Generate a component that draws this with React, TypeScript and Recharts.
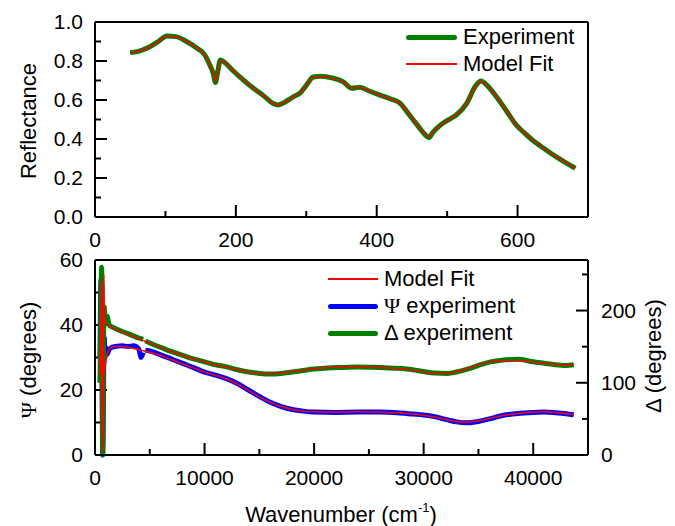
import React from "react";
import { CartesianGrid, Legend, Line, LineChart, ReferenceLine, XAxis, YAxis } from "recharts";

const FONT = "'Liberation Sans', Arial, Helvetica, sans-serif";
const SERIF = "'Liberation Serif', 'DejaVu Serif', serif";
const GREEN = "#008000";
const RED = "#ff0000";
const BLUE = "#0000ff";
const INK = "#000";

// --- top panel: reflectance vs wavenumber (cm^-1) ---
const reflWavenumber = [
  50, 60, 75, 90, 102, 115, 130, 145, 155, 163, 168, 171, 174, 178, 185, 196,
  210, 225, 240, 253, 260, 270, 281, 291, 300, 310, 320, 338, 352, 365, 376,
  390, 404, 420, 433, 445, 458, 468, 474, 480, 490, 505, 513, 528, 540, 548,
  558, 570, 585, 598, 610, 621, 638, 655, 670, 682,
];
const reflExperiment = [
  0.843, 0.848, 0.868, 0.9, 0.928, 0.925, 0.9, 0.865, 0.835, 0.78, 0.735, 0.69,
  0.74, 0.805, 0.79, 0.75, 0.705, 0.66, 0.62, 0.582, 0.575, 0.59, 0.615, 0.635,
  0.675, 0.718, 0.722, 0.712, 0.694, 0.66, 0.665, 0.645, 0.626, 0.605, 0.584,
  0.53, 0.47, 0.425, 0.407, 0.435, 0.47, 0.505, 0.523, 0.584, 0.67, 0.697,
  0.67, 0.617, 0.54, 0.472, 0.43, 0.395, 0.35, 0.308, 0.275, 0.25,
];
const reflModelFit = [
  0.843, 0.849, 0.868, 0.9, 0.927, 0.924, 0.9, 0.866, 0.834, 0.782, 0.738,
  0.695, 0.742, 0.803, 0.79, 0.75, 0.705, 0.66, 0.62, 0.582, 0.576, 0.59,
  0.614, 0.636, 0.676, 0.717, 0.721, 0.711, 0.693, 0.661, 0.664, 0.645, 0.626,
  0.604, 0.583, 0.531, 0.471, 0.427, 0.41, 0.436, 0.47, 0.504, 0.524, 0.585,
  0.668, 0.695, 0.669, 0.617, 0.541, 0.472, 0.43, 0.396, 0.35, 0.309, 0.276,
  0.251,
];
const reflXTicks = [0, 100, 200, 300, 400, 500, 600];
const reflXLabeled = [0, 200, 400, 600];
const reflYTicks = [0, 0.1, 0.2, 0.3, 0.4, 0.5, 0.6, 0.7, 0.8, 0.9, 1.0];
const reflYLabeled = [0, 0.2, 0.4, 0.6, 0.8, 1.0];

// --- bottom panel: ellipsometry Psi / Delta ---
const expWavenumber = [
  450, 500, 550, 600, 650, 700, 750, 800, 850, 900, 1000, 1100, 1300, 1600,
  2000, 2500, 3000, 3500, 4000, 4200, 4400, 4500, 4600, 5000, 6000, 7000, 8000,
  9000, 10000, 11000, 12000, 13000, 14000, 15000, 16000, 17000, 18000, 19000,
  20000, 22000, 24000, 26000, 27600, 29000, 30000, 31000, 32200, 33000, 34000,
  35000, 36100, 37000, 38600, 40000, 41000, 42000, 43000, 43700,
];
const psiExperiment = [
  30, 45, 54, 40, 20, 0, 12, 28, 36, 30, 33, 31, 32.5, 33.2, 33.5, 33.6, 33.4,
  33.6, 32.6, 30.0, 31.5, null, 32.2, 32.0, 30.8, 29.5, 28.2, 26.9, 25.5, 24.6,
  23.5, 22.0, 20.0, 18.0, 16.2, 14.9, 14.0, 13.5, 13.2, 13.1, 13.2, 13.2, 13.0,
  12.6, 12.3, 11.8, 10.8, 10.2, 9.9, 10.3, 11.2, 12.0, 12.8, 13.1, 13.2, 13.0,
  12.7, 12.4,
];
const deltaExperiment = [
  100, 150, 220, 260, 200, 0, 60, 200, 205, 190, 184, 192, 180, 177, 174, 171,
  168, 165, 162, 161, 160, null, 158, 155, 149, 143, 138, 133, 129, 125, 122,
  118, 115, 113, 112, 113, 115, 117, 119, 121, 122, 121, 120, 118, 115.5,
  113.5, 113, 115, 119, 124, 129, 131, 132.5, 129, 127, 125, 124, 125,
];
const fitWavenumber = [
  450, 500, 550, 600, 650, 700, 750, 800, 850, 900, 1000, 1100, 1300, 1600,
  2000, 2500, 3000, 3500, 4000, 4500, 5000, 6000, 7000, 8000, 9000, 10000,
  11000, 12000, 13000, 14000, 15000, 16000, 17000, 18000, 19000, 20000, 22000,
  24000, 26000, 27600, 29000, 30000, 31000, 32200, 33000, 34000, 35000, 36100,
  37000, 38600, 40000, 41000, 42000, 43000, 43700,
];
const psiModelFit = [
  28, 32, 35, 35, 20, 2, 15, 27, 26, 27, 29, 31, 32.6, 33.3, 33.5, 33.4, 33.1,
  32.8, 32.4, 32.0, 31.6, 30.6, 29.3, 28.0, 26.8, 25.5, 24.5, 23.4, 21.9, 19.9,
  17.9, 16.2, 14.9, 14.0, 13.5, 13.3, 13.2, 13.3, 13.2, 13.0, 12.6, 12.2, 11.7,
  10.8, 10.3, 10.1, 10.5, 11.3, 12.0, 12.8, 13.2, 13.3, 13.1, 12.8, 12.5,
];
const deltaModelFit = [
  110, 130, 180, 240, 150, 5, 120, 250, 200, 186, 183, 181, 179, 176, 173, 170,
  167, 164, 161, 158, 155, 149, 143, 138, 133, 129, 125, 121.5, 118, 115, 113,
  112.5, 113.5, 115.5, 117.5, 119.5, 121.5, 122, 121, 119.5, 117.5, 115, 113,
  113, 115.5, 120, 125, 129, 130.5, 131, 128.5, 127, 125.5, 124.5, 124.5,
];
const ellXTicks = [0, 5000, 10000, 15000, 20000, 25000, 30000, 35000, 40000];
const ellXLabeled = [0, 10000, 20000, 30000, 40000];
const psiTicks = [0, 10, 20, 30, 40, 50, 60];
const psiLabeled = [0, 20, 40, 60];
const deltaTicks = [0, 50, 100, 150, 200, 250];
const deltaLabeled = [0, 100, 200];

const toPoints = (xs: number[], ys: (number | null)[]) =>
  xs.map((x, i) => ({ x, y: ys[i] }));

const isLabeled = (labeled: number[], v: number) => labeled.some((m) => Math.abs(m - v) < 1e-9);

// minor ticks get a blank label
const labelOnly = (labeled: number[], fmt: (v: number) => string = (v) => `${v}`) => (v: number) =>
  isLabeled(labeled, v) ? fmt(v) : "";

const edge = { stroke: INK, strokeWidth: 2 };
const tickText = { fontSize: 21, fontFamily: FONT, fill: INK };

// plot box size in px, used to turn the inward tick length into data units
const PLOT_W = 493;
const PLOT_H = 195;
const MAJOR_PX = 12;
const MINOR_PX = 6;

// inward tick marks along the bottom edge
function bottomMarks(ticks: number[], labeled: number[], yMin: number, ySpan: number, yAxisId?: string) {
  return ticks.map((t) => {
    const len = ((isLabeled(labeled, t) ? MAJOR_PX : MINOR_PX) / PLOT_H) * ySpan;
    return (
      <ReferenceLine
        key={`b${t}`}
        {...(yAxisId ? { yAxisId } : {})}
        segment={[
          { x: t, y: yMin },
          { x: t, y: yMin + len },
        ]}
        stroke={INK}
        strokeWidth={2}
      />
    );
  });
}

// inward tick marks along a side edge; dir = 1 for the left edge, -1 for the right
function sideMarks(
  ticks: number[],
  labeled: number[],
  xEdge: number,
  xSpan: number,
  dir: number,
  yAxisId?: string
) {
  return ticks.map((t) => {
    const len = ((isLabeled(labeled, t) ? MAJOR_PX : MINOR_PX) / PLOT_W) * xSpan;
    return (
      <ReferenceLine
        key={`s${dir}${t}`}
        {...(yAxisId ? { yAxisId } : {})}
        segment={[
          { x: xEdge, y: t },
          { x: xEdge + dir * len, y: t },
        ]}
        stroke={INK}
        strokeWidth={2}
      />
    );
  });
}

type LegendRow = { label: React.ReactNode; color: string; width: number };

function LegendBox({ rows, lineLen, gap }: { rows: LegendRow[]; lineLen: number; gap: number }) {
  return (
    <div style={{ position: "relative", width: 200, height: rows.length * gap + 6 }}>
      {rows.map((r, i) => {
        const cy = 14 + i * gap;
        return (
          <React.Fragment key={i}>
            <div
              style={{
                position: "absolute",
                left: 6,
                top: cy - r.width / 2,
                width: lineLen,
                height: r.width,
                background: r.color,
                borderRadius: r.width > 2 ? r.width / 2 : 0,
              }}
            />
            <div
              style={{
                position: "absolute",
                left: lineLen + 12,
                top: cy - 10.6,
                font: `22px ${FONT}`,
                lineHeight: "22px",
                color: INK,
                whiteSpace: "nowrap",
              }}
            >
              {r.label}
            </div>
          </React.Fragment>
        );
      })}
    </div>
  );
}

const topRows: LegendRow[] = [
  { label: "Experiment", color: GREEN, width: 5 },
  { label: "Model Fit", color: RED, width: 2 },
];

const bottomRows: LegendRow[] = [
  { label: "Model Fit", color: RED, width: 2 },
  {
    label: (
      <>
        <span style={{ fontFamily: SERIF }}>Ψ</span> experiment
      </>
    ),
    color: BLUE,
    width: 5,
  },
  { label: "Δ experiment", color: GREEN, width: 5 },
];

function ReflectancePanel() {
  return (
    <LineChart width={675} height={252} margin={{ top: 22, right: 87, bottom: 0, left: 0 }}>
      <CartesianGrid horizontalValues={[1]} verticalValues={[700]} stroke={INK} strokeWidth={2} />
      <XAxis
        dataKey="x"
        type="number"
        domain={[0, 700]}
        ticks={reflXTicks}
        interval={0}
        height={35}
        axisLine={edge}
        tickLine={false}
        tickSize={0}
        tickMargin={15}
        tick={tickText}
        tickFormatter={labelOnly(reflXLabeled)}
      />
      <YAxis
        type="number"
        domain={[0, 1]}
        ticks={reflYTicks}
        interval={0}
        width={95}
        axisLine={edge}
        tickLine={false}
        tickSize={0}
        tickMargin={12}
        tick={tickText}
        tickFormatter={labelOnly(reflYLabeled, (v) => v.toFixed(1))}
      />
      {bottomMarks(reflXTicks, reflXLabeled, 0, 1)}
      {sideMarks(reflYTicks, reflYLabeled, 0, 700, 1)}
      <Line
        data={toPoints(reflWavenumber, reflExperiment)}
        dataKey="y"
        type="monotone"
        stroke={GREEN}
        strokeWidth={5}
        strokeLinejoin="round"
        dot={false}
        isAnimationActive={false}
      />
      <Line
        data={toPoints(reflWavenumber, reflModelFit)}
        dataKey="y"
        type="monotone"
        stroke={RED}
        strokeWidth={1.5}
        dot={false}
        isAnimationActive={false}
      />
      <Legend
        layout="vertical"
        align="center"
        verticalAlign="middle"
        wrapperStyle={{ left: 400, top: 23, width: 200 }}
        content={() => <LegendBox rows={topRows} lineLen={51} gap={26.5} />}
      />
    </LineChart>
  );
}

function EllipsometryPanel() {
  return (
    <LineChart width={675} height={274} margin={{ top: 8, right: 0, bottom: 0, left: 0 }}>
      <CartesianGrid yAxisId="psi" horizontalValues={[60]} vertical={false} stroke={INK} strokeWidth={2} />
      <XAxis
        dataKey="x"
        type="number"
        domain={[0, 45000]}
        ticks={ellXTicks}
        interval={0}
        height={71}
        axisLine={edge}
        tickLine={false}
        tickSize={0}
        tickMargin={15}
        tick={tickText}
        tickFormatter={labelOnly(ellXLabeled)}
      />
      <YAxis
        yAxisId="psi"
        type="number"
        domain={[0, 60]}
        ticks={psiTicks}
        interval={0}
        width={95}
        axisLine={edge}
        tickLine={false}
        tickSize={0}
        tickMargin={12}
        tick={tickText}
        tickFormatter={labelOnly(psiLabeled)}
      />
      <YAxis
        yAxisId="delta"
        orientation="right"
        type="number"
        domain={[0, 270]}
        ticks={deltaTicks}
        interval={0}
        width={87}
        axisLine={edge}
        tickLine={false}
        tickSize={0}
        tickMargin={13}
        tick={tickText}
        tickFormatter={labelOnly(deltaLabeled)}
      />
      {bottomMarks(ellXTicks, ellXLabeled, 0, 60, "psi")}
      {sideMarks(psiTicks, psiLabeled, 0, 45000, 1, "psi")}
      {sideMarks(deltaTicks, deltaLabeled, 45000, 45000, -1, "delta")}
      <Line
        yAxisId="psi"
        data={toPoints(expWavenumber, psiExperiment)}
        dataKey="y"
        type="monotone"
        stroke={BLUE}
        strokeWidth={5}
        strokeLinejoin="round"
        dot={false}
        isAnimationActive={false}
      />
      <Line
        yAxisId="delta"
        data={toPoints(expWavenumber, deltaExperiment)}
        dataKey="y"
        type="monotone"
        stroke={GREEN}
        strokeWidth={5}
        strokeLinejoin="round"
        dot={false}
        isAnimationActive={false}
      />
      <Line
        yAxisId="psi"
        data={toPoints(fitWavenumber, psiModelFit)}
        dataKey="y"
        type="monotone"
        stroke={RED}
        strokeWidth={1.5}
        dot={false}
        isAnimationActive={false}
      />
      <Line
        yAxisId="delta"
        data={toPoints(fitWavenumber, deltaModelFit)}
        dataKey="y"
        type="monotone"
        stroke={RED}
        strokeWidth={1.5}
        dot={false}
        isAnimationActive={false}
      />
      <Legend
        layout="vertical"
        align="center"
        verticalAlign="middle"
        wrapperStyle={{ left: 322, top: 13, width: 200 }}
        content={() => <LegendBox rows={bottomRows} lineLen={50} gap={27} />}
      />
    </LineChart>
  );
}

function VerticalTitle({ x, y, children }: { x: number; y: number; children: React.ReactNode }) {
  return (
    <text
      x={x}
      y={y}
      transform={`rotate(-90, ${x}, ${y})`}
      textAnchor="middle"
      fontFamily={FONT}
      fontSize={22}
      fill={INK}
    >
      {children}
    </text>
  );
}

// axis titles, laid over both panels
function AxisTitles() {
  return (
    <svg
      width={675}
      height={526}
      style={{ position: "absolute", left: 0, top: 0, pointerEvents: "none" }}
    >
      <VerticalTitle x={36} y={121}>Reflectance</VerticalTitle>
      <VerticalTitle x={36} y={360}>
        <tspan fontFamily={SERIF}>Ψ</tspan> (degrees)
      </VerticalTitle>
      <VerticalTitle x={661} y={356}>Δ (degrees)</VerticalTitle>
      <text x={341} y={522} textAnchor="middle" fontFamily={FONT} fontSize={22} fill={INK}>
        Wavenumber (cm
        <tspan fontSize={13} dy={-10}>-1</tspan>
        <tspan dy={10}>)</tspan>
      </text>
    </svg>
  );
}

export default function App() {
  return (
    <div style={{ position: "absolute", left: 0, top: 0, width: 675, height: 526, background: "#fff" }}>
      <div style={{ position: "absolute", left: 0, top: 0 }}>
        <ReflectancePanel />
      </div>
      <div style={{ position: "absolute", left: 0, top: 252 }}>
        <EllipsometryPanel />
      </div>
      <AxisTitles />
    </div>
  );
}
